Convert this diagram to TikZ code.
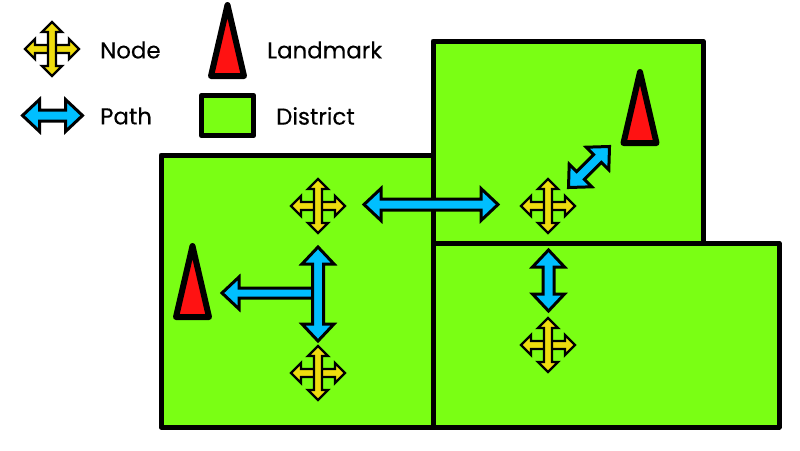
\documentclass[tikz,border=0pt]{standalone}
\usepackage{fontspec}
\newfontfamily\legendfont[FakeBold=0.3]{Poppins}
\definecolor{districtgreen}{HTML}{7AFF14}
\definecolor{landmarkred}{HTML}{FF1212}
\definecolor{pathblue}{HTML}{00BFFF}
\definecolor{nodeyellow}{HTML}{EEDC0E}
\tikzset{
  legend/.style={anchor=west, font=\legendfont\fontsize{22.9}{26}\selectfont, inner sep=0pt},
  district/.style={draw=black, fill=districtgreen, line width=5pt, line join=round},
  pics/landmark/.style={code={
    \draw[fill=landmarkred, line width=6pt, line join=round] (-16.5,0)--(0,-71)--(16.5,0)--cycle;
  }},
  pics/crossing/.style={code={
    \foreach \turn in {0,90}
      \draw[rotate=\turn, fill=nodeyellow, line width=2.4pt, line join=miter]
        (-27,0)--(-17,-10)--(-17,-4)--(17,-4)--(17,-10)--(27,0)--(17,10)--(17,4)--(-17,4)--(-17,10)--cycle;
  }},
  pics/route/.style 2 args={code={
    \draw[rotate=#2, fill=pathblue, line width=3pt, line join=miter]
      (-#1,0)--(-#1+17,-16)--(-#1+17,-5.5)--(#1-17,-5.5)--(#1-17,-16)--(#1,0)--(#1-17,16)--(#1-17,5.5)--(-#1+17,5.5)--(-#1+17,16)--cycle;
  }},
  pics/halfroute/.style={code={
    \draw[fill=pathblue, line width=3pt, line join=miter]
      (0,-5)--(-79,-5)--(-79,-16)--(-96,0)--(-79,16)--(-79,5)--(0,5);
  }}
}
\begin{document}
\begin{tikzpicture}[x=1pt, y=-1pt]
\useasboundingbox (0,0) rectangle (800,450);

% districts
\draw[district] (433,41) rectangle (703,243);
\draw[district] (161,155) rectangle (433,427);
\draw[district] (433,243) rectangle (779,427);

% legend
\pic at (52,49) {crossing};
\pic at (52.5,115.5) {route={30}{0}};
\pic at (227.5,76) {landmark};
\draw[district, line width=5.5pt] (201.5,95.5) rectangle (253.5,135.5);
\node[legend] (nodelabel) at (100,50) {Node};
\node[legend] (pathlabel) at (100,116) {Path};
\node[legend] (landmarklabel) at (267,50) {Landmark};
\node[legend] (districtlabel) at (276,116) {District};

% landmarks
\pic at (640,143) {landmark};
\pic at (192.5,317) {landmark};

% paths
\pic at (431,204.5) {route={67}{0}};
\pic at (548.5,280.5) {route={30.5}{90}};
\pic at (589,167) {route={29}{45}};
\pic at (318,293) {halfroute};
\pic at (318,294) {route={47}{90}};

% nodes
\pic at (318,206) {crossing};
\pic at (548,206) {crossing};
\pic at (548,345) {crossing};
\pic at (318,373) {crossing};
\end{tikzpicture}
\end{document}
